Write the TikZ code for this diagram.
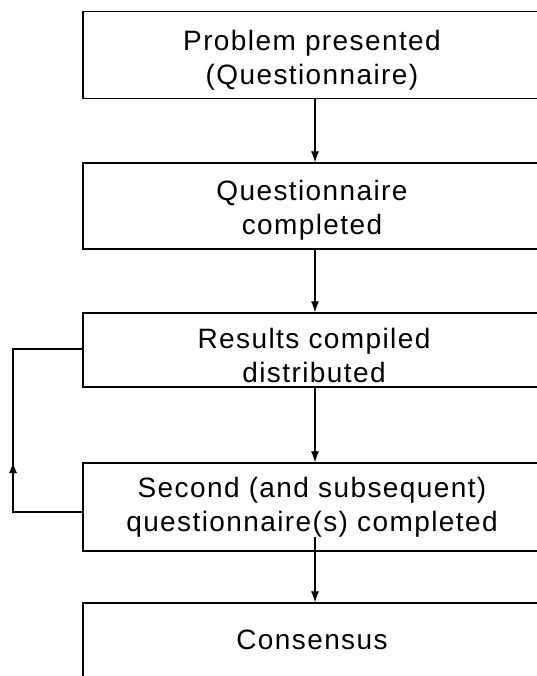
\documentclass[tikz,border=0pt]{standalone}
\usepackage{fontspec}
\setmainfont{Liberation Sans}[LetterSpace=5]
\usetikzlibrary{arrows.meta,calc}
\begin{document}
\begin{tikzpicture}[x=1pt,y=-1pt,
  box/.style={draw, line width=1.3pt, rectangle, minimum width=458pt, inner sep=0pt},
  txt/.style={align=center, inner sep=0pt, font=\fontsize{28}{34}\selectfont},
  conn/.style={line width=1.1pt, -{Latex[length=11pt,width=8pt]}},
  fb/.style={line width=1.1pt}]
\useasboundingbox (0,0) rectangle (537,676);
\clip (0,0) rectangle (537,676);
\fill[white] (0,0) rectangle (537,676);
\node[box, minimum height=87pt] (b1) at (312,55) {};
\node[box, minimum height=86pt] (b2) at (312,206) {};
\node[box, minimum height=74pt] (b3) at (312,350) {};
\node[box, minimum height=88pt] (b4) at (312,507) {};
\node[box, minimum height=100pt] (b5) at (312,653) {};
\node[txt] (t1) at ($(b1.center)+(0,5)$) {Problem presented\\(Questionnaire)};
\node[txt] (t2) at ($(b2.center)+(0,4)$) {Questionnaire\\completed};
\node[txt] (t3) at ($(b3.center)+(2,5)$) {Results compiled\\distributed};
\node[txt] (t4) at ($(b4.center)+(0,0)$) {Second (and subsequent)\\questionnaire(s) completed};
\node[txt] (t5) at (312,640) {Consensus};
\draw[conn] ($(b1.south)+(3,0)$) -- ($(b2.north)+(3,0)$);
\draw[conn] ($(b2.south)+(3,0)$) -- ($(b3.north)+(3,0)$);
\draw[conn] ($(b3.south)+(3,0)$) -- ($(b4.north)+(3,0)$);
\draw[conn] ($(b4.south)+(3,-15)$) -- ($(b5.north)+(3,0)$);
\coordinate (c1) at (13,512);
\coordinate (c2) at (13,349);
\coordinate (cm) at (13,462);
\draw[fb] (b4.west |- c1) -- (c1) -- (c2) -- (b3.west |- c2);
\draw[fb, -{Latex[length=11pt,width=8pt]}] (c1) -- (cm);
\end{tikzpicture}
\end{document}
